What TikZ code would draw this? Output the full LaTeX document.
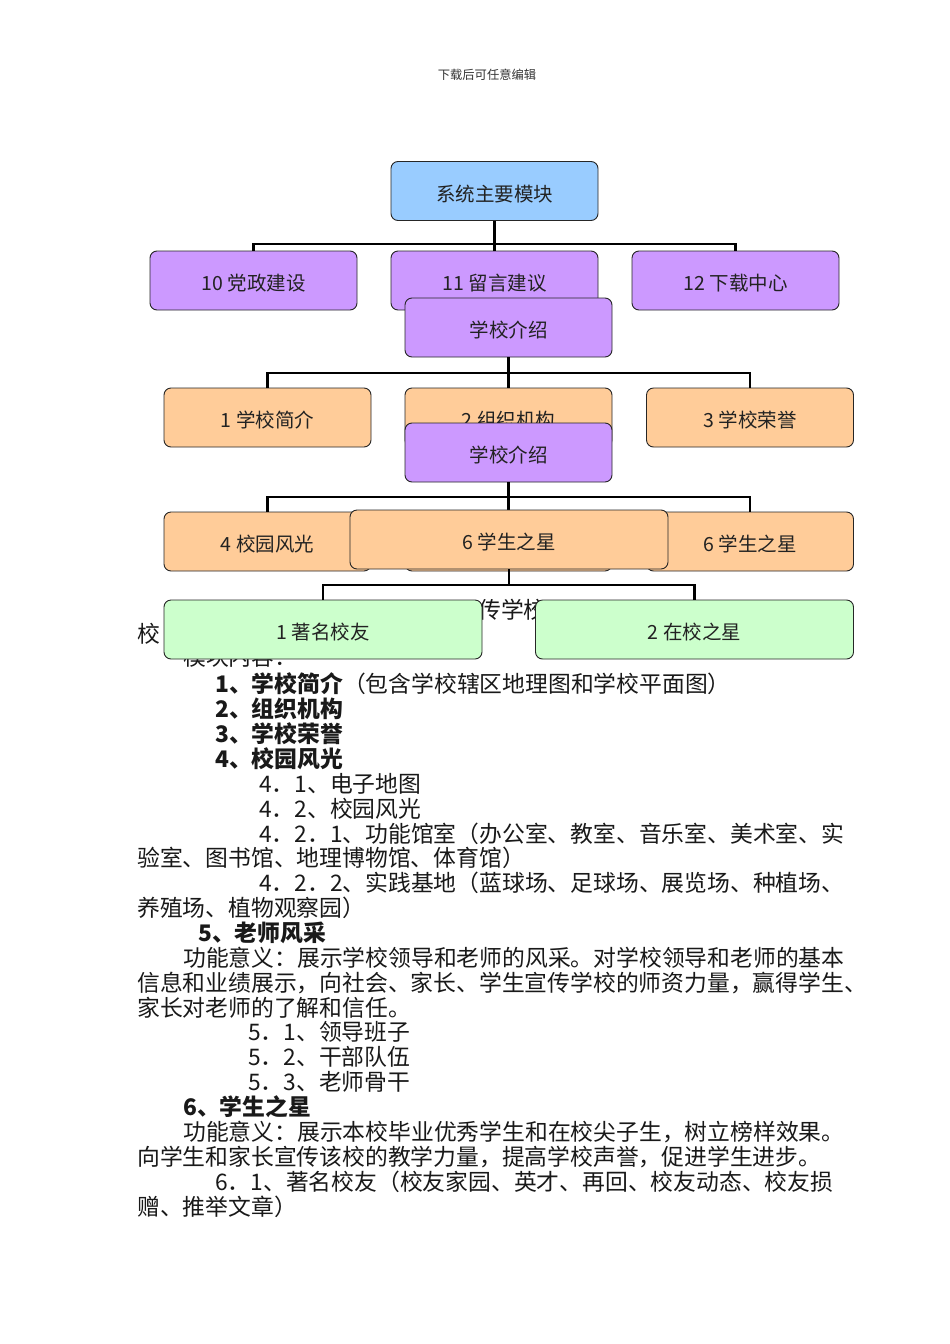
\documentclass[tikz,border=0pt]{standalone}
\usepackage{fontspec}
\setmainfont{Noto Sans CJK SC}
\definecolor{cblue}{HTML}{99CCFF}
\definecolor{cpurple}{HTML}{CC99FF}
\definecolor{corange}{HTML}{FFCC99}
\definecolor{cgreen}{HTML}{CCFFCC}
\definecolor{ctext}{HTML}{222222}
\begin{document}
\begin{tikzpicture}[x=1pt,y=-1pt,
  box/.style={draw=black!85, line width=0.9pt, rounded corners=7pt,
    minimum width=207pt, minimum height=59pt, inner sep=0pt,
    text height=20pt, text depth=0pt,
    text=ctext, font=\fontsize{19.5}{22}\selectfont},
  wbox/.style={box, minimum width=318pt},
  conn/.style={draw=black, line width=2.2pt},
  txt/.style={anchor=west, inner sep=0pt, text height=8.8pt, text depth=1.2pt,
    font=\fontsize{22.8}{25}\selectfont, text=black!90}]
\useasboundingbox[fill=white] (0,0) rectangle (950,1344);
\node[anchor=center, inner sep=0pt, font=\fontsize{12.3}{14}\selectfont, text=black!80] (hdr) at (487,74.5) {下载后可任意编辑};
% body text (behind boxes)
\node[txt] (f1) at (478,615) {传学校};
\node[txt] (f2) at (137,639) {校};
\node[txt] (t0) at (183,662) {模块内容：};
\node[txt] (t1) at (215,689) {{\bfseries 1、学校简介}（包含学校辖区地理图和学校平面图）};
\node[txt] (t2) at (215,714) {\bfseries 2、组织机构};
\node[txt] (t3) at (215,739) {\bfseries 3、学校荣誉};
\node[txt] (t4) at (215,764) {\bfseries 4、校园风光};
\node[txt] (t5) at (259,789) {4．1、电子地图};
\node[txt] (t6) at (259,814) {4．2、校园风光};
\node[txt] (t7) at (259,839) {4．2．1、功能馆室（办公室、教室、音乐室、美术室、实};
\node[txt] (t8) at (137,863) {验室、图书馆、地理博物馆、体育馆）};
\node[txt] (t9) at (259,888) {4．2．2、实践基地（蓝球场、足球场、展览场、种植场、};
\node[txt] (t10) at (137,913) {养殖场、植物观察园）};
\node[txt] (t11) at (198,938) {\bfseries 5、老师风采};
\node[txt] (t12) at (183,963) {功能意义：展示学校领导和老师的风采。对学校领导和老师的基本};
\node[txt] (t13) at (137,988) {信息和业绩展示，向社会、家长、学生宣传学校的师资力量，赢得学生、};
\node[txt] (t14) at (137,1013) {家长对老师的了解和信任。};
\node[txt] (t15) at (248,1037) {5．1、领导班子};
\node[txt] (t16) at (248,1062) {5．2、干部队伍};
\node[txt] (t17) at (248,1087) {5．3、老师骨干};
\node[txt] (t18) at (183,1112) {\bfseries 6、学生之星};
\node[txt] (t19) at (183,1137) {功能意义：展示本校毕业优秀学生和在校尖子生，树立榜样效果。};
\node[txt] (t20) at (137,1162) {向学生和家长宣传该校的教学力量，提高学校声誉，促进学生进步。};
\node[txt] (t21) at (215,1187) {6．1、著名校友（校友家园、英才、再回、校友动态、校友损};
\node[txt] (t22) at (137,1212) {赠、推举文章）};
% level 0
\node[box, fill=cblue] (root) at (494.5,191) {系统主要模块};
\coordinate (j1) at (494.5,244);
\node[box, fill=cpurple] (b10) at (253.5,280.5) {10 党政建设};
\node[box, fill=cpurple] (b11) at (494.5,280.5) {11 留言建议};
\node[box, fill=cpurple] (b12) at (735.5,280.5) {12 下载中心};
\draw[conn] (root.south) -- (j1);
\draw[conn] (b10.north) |- (j1) -| (b12.north);
\draw[conn] (j1) -- (b11.north);
% school intro 1
\node[box, fill=cpurple] (si1) at (508.5,327.5) {学校介绍};
\coordinate (j2) at (508.5,373);
\node[box, fill=corange] (c1) at (267.5,417.5) {1 学校简介};
\node[box, fill=corange] (c2) at (508.5,417.5) {2 组织机构};
\node[box, fill=corange] (c3) at (750,417.5) {3 学校荣誉};
\draw[conn] (si1.south) -- (j2);
\draw[conn] (c1.north) |- (j2) -| (c3.north);
\draw[conn] (j2) -- (c2.north);
% school intro 2
\node[box, fill=cpurple] (si2) at (508.5,452.5) {学校介绍};
\coordinate (j3) at (508.5,497);
\node[box, fill=corange] (c4) at (267.5,541.5) {4 校园风光};
\node[box, fill=corange] (c5) at (508.5,541.5) {};
\node[box, fill=corange] (c6) at (750,541.5) {6 学生之星};
\draw[conn] (si2.south) -- (j3);
\draw[conn] (c4.north) |- (j3) -| (c6.north);
\draw[conn] (j3) -- (c5.north);
% big star box
\node[wbox, fill=corange] (star) at (509,539.5) {6 学生之星};
\coordinate (j4) at (509,585);
\node[wbox, fill=cgreen] (g1) at (323,629.5) {1 著名校友};
\node[wbox, fill=cgreen] (g2) at (694.5,629.5) {2 在校之星};
\draw[conn] (star.south) -- (j4);
\draw[conn] (g1.north) |- (j4) -| (g2.north);
\end{tikzpicture}
\end{document}
